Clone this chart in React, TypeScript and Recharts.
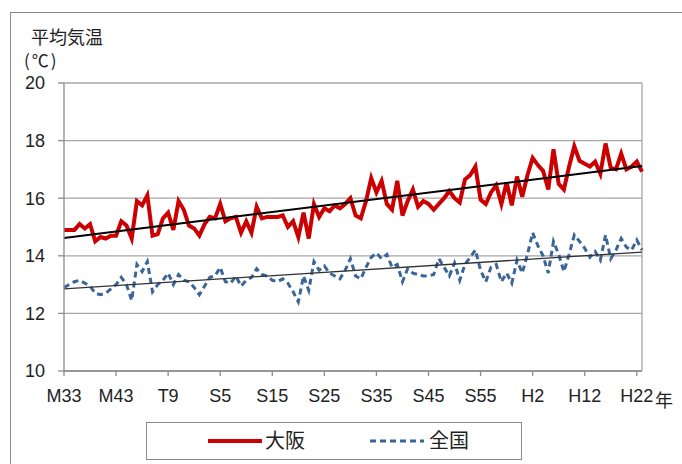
import React from 'react';
import { LineChart, Line, XAxis, YAxis, CartesianGrid, ReferenceLine } from 'recharts';

const startYear = 1900;

const osaka = [
  14.9, 14.9, 14.9, 15.1, 14.95, 15.1, 14.5, 14.65, 14.6, 14.7,
  14.7, 15.2, 15.05, 14.6, 15.9, 15.75, 16.1, 14.7, 14.75, 15.3,
  15.5, 14.9, 15.9, 15.6, 15.05, 14.95, 14.7, 15.1, 15.35, 15.3,
  15.8, 15.2, 15.3, 15.35, 14.8, 15.2, 14.8, 15.7, 15.3, 15.35,
  15.35, 15.35, 15.4, 15.0, 15.2, 14.65, 15.5, 14.6, 15.8, 15.35,
  15.65, 15.55, 15.75, 15.65, 15.8, 16.0, 15.4, 15.3, 15.9, 16.7,
  16.2, 16.6, 15.8, 15.6, 16.6, 15.4, 15.9, 16.3, 15.7, 15.9,
  15.8, 15.6, 15.8, 16.0, 16.25, 16.0, 15.85, 16.65, 16.8, 17.1,
  15.95, 15.8, 16.2, 16.45, 15.8, 16.55, 15.75, 16.75, 16.05, 16.8,
  17.4, 17.15, 16.95, 16.3, 17.7, 16.5, 16.3, 17.1, 17.8, 17.3,
  17.2, 17.1, 17.27, 16.85, 17.9, 17.05, 17.0, 17.55, 17.0, 17.1,
  17.27, 16.92,
];

const zenkoku = [
  12.9, 13.0, 13.1, 13.15, 13.05, 12.95, 12.7, 12.65, 12.7, 12.85,
  13.0, 13.25, 13.0, 12.45, 13.7, 13.45, 13.8, 12.75, 13.0, 13.15,
  13.4, 13.0, 13.35, 13.15, 13.1, 12.9, 12.65, 12.95, 13.25, 13.3,
  13.6, 13.1, 13.05, 13.3, 12.95, 13.15, 13.25, 13.55, 13.35, 13.3,
  13.15, 13.1, 13.2, 13.05, 12.75, 12.4, 13.3, 12.8, 13.8, 13.5,
  13.65, 13.4, 13.3, 13.2, 13.5, 13.9, 13.3, 13.2, 13.6, 13.95,
  14.1, 13.9, 14.05, 13.6, 13.7, 13.1, 13.55, 13.4, 13.35, 13.3,
  13.3, 13.35, 13.9, 13.6, 13.3, 13.75, 13.15, 13.7, 13.95, 14.2,
  13.5, 13.1, 13.6, 13.7, 13.1, 13.4, 13.05, 13.85, 13.4, 14.05,
  14.8, 14.35, 14.0, 13.4, 14.5, 14.05, 13.45, 14.05, 14.72, 14.5,
  14.26, 13.95, 14.15, 13.85, 14.72, 13.9, 14.2, 14.6, 14.3, 14.2,
  14.55, 14.2,
];

const trendYears = [1900, 2011];
const osakaTrend = [14.62, 17.12];
const zenkokuTrend = [12.85, 14.13];

const tickYears = [1900, 1910, 1920, 1930, 1940, 1950, 1960, 1970, 1980, 1990, 2000, 2010];
const tickLabels = ['M33', 'M43', 'T9', 'S5', 'S15', 'S25', 'S35', 'S45', 'S55', 'H2', 'H12', 'H22'];
const yTicks = [10, 12, 14, 16, 18, 20];

const data = osaka.map((v, i) => ({ year: startYear + i, osaka: v, zenkoku: zenkoku[i] }));
const osakaSegment = trendYears.map((y, i) => ({ x: y, y: osakaTrend[i] }));
const zenkokuSegment = trendYears.map((y, i) => ({ x: y, y: zenkokuTrend[i] }));

const latin = "'Liberation Sans', Arial, sans-serif";
const cjk = "'Noto Sans CJK JP', 'Noto Sans', sans-serif";
const gray = '#8c8c8c';

export default function App() {
  return (
    <div style={{ position: 'relative', width: 682, height: 464, background: '#fff', overflow: 'hidden' }}>
      <style>{`body{margin:0}`}</style>
      <div style={{ position: 'absolute', left: 10, top: 12, width: 720, height: 520, border: `1px solid ${gray}` }} />
      <div style={{ position: 'absolute', left: 0, top: 0 }}>
        <LineChart width={682} height={464} data={data} margin={{ top: 83, right: 40, bottom: 63, left: 0 }}>
          <CartesianGrid vertical={false} stroke="#a6a6a6" strokeWidth={1.3} />
          <XAxis
            dataKey="year"
            type="number"
            domain={[1900, 2011]}
            ticks={tickYears}
            interval={0}
            tickFormatter={(v: number) => tickLabels[tickYears.indexOf(v)] ?? ''}
            height={30}
            tickSize={5}
            tickMargin={13}
            axisLine={{ stroke: gray, strokeWidth: 1.3 }}
            tickLine={{ stroke: gray, strokeWidth: 1.3 }}
            tick={{ fill: '#222', fontSize: 18, fontFamily: latin }}
          />
          <YAxis
            domain={[10, 20]}
            ticks={yTicks}
            interval={0}
            width={64}
            tickSize={6}
            tickMargin={13}
            axisLine={{ stroke: gray, strokeWidth: 1.3 }}
            tickLine={{ stroke: gray, strokeWidth: 1.3 }}
            tick={{ fill: '#222', fontSize: 18, fontFamily: latin }}
          />
          <ReferenceLine x={2011} stroke="#a6a6a6" strokeWidth={1.3} />
          <Line type="linear" dataKey="osaka" stroke="#cc0000" strokeWidth={4} dot={false} isAnimationActive={false} />
          <Line type="linear" dataKey="zenkoku" stroke="#3a6598" strokeWidth={3} strokeDasharray="6 4" dot={false} isAnimationActive={false} />
          <ReferenceLine segment={osakaSegment} stroke="#000" strokeWidth={2} />
          <ReferenceLine segment={zenkokuSegment} stroke="#333" strokeWidth={1.3} />
        </LineChart>
      </div>
      <div style={{ position: 'absolute', left: 31, top: 26, fontFamily: cjk, fontSize: 18, lineHeight: '20px', color: '#222', whiteSpace: 'nowrap' }}>平均気温</div>
      <div style={{ position: 'absolute', left: 24, top: 50, fontFamily: cjk, fontSize: 17, lineHeight: '20px', color: '#222', whiteSpace: 'nowrap', letterSpacing: 2 }}>(℃)</div>
      <div style={{ position: 'absolute', left: 655, top: 389, fontFamily: cjk, fontSize: 18, lineHeight: '20px', color: '#222' }}>年</div>
      <div style={{ position: 'absolute', left: 146, top: 422, width: 376, height: 38, border: `1px solid ${gray}`, boxSizing: 'border-box' }} />
      <svg style={{ position: 'absolute', left: 0, top: 0 }} width={682} height={464}>
        <line x1={208} y1={441} x2={262} y2={441} stroke="#cc0000" strokeWidth={4} />
        <line x1={370} y1={441} x2={424} y2={441} stroke="#3a6598" strokeWidth={3} strokeDasharray="6 4" />
      </svg>
      <div style={{ position: 'absolute', left: 265, top: 428, fontFamily: cjk, fontSize: 20, lineHeight: '24px', color: '#222' }}>大阪</div>
      <div style={{ position: 'absolute', left: 429, top: 428, fontFamily: cjk, fontSize: 20, lineHeight: '24px', color: '#222' }}>全国</div>
    </div>
  );
}
